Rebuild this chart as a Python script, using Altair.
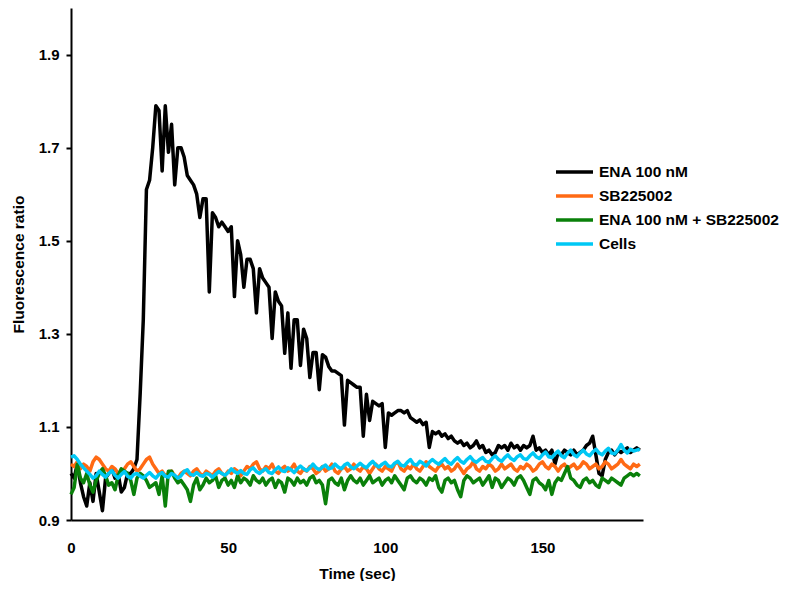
import altair as alt
import pandas as pd

time_sec = list(range(182))

ena_100nm = [
    1.00, 0.99, 1.02, 0.98, 0.95, 0.93, 0.98, 0.94, 1.00, 0.96,
    0.92, 0.99, 1.00, 1.01, 0.99, 1.00, 0.96, 0.97, 1.00, 1.00,
    1.01, 1.03, 1.17, 1.33, 1.61, 1.63, 1.70, 1.79, 1.78, 1.65,
    1.79, 1.69, 1.75, 1.62, 1.70, 1.70, 1.68, 1.64, 1.63, 1.62,
    1.60, 1.55, 1.59, 1.59, 1.39, 1.56, 1.55, 1.53, 1.54, 1.53,
    1.52, 1.53, 1.38, 1.50, 1.47, 1.40, 1.46, 1.46, 1.44, 1.345,
    1.44, 1.42, 1.41, 1.40, 1.29, 1.39, 1.37, 1.36, 1.258, 1.345,
    1.226, 1.33, 1.33, 1.232, 1.31, 1.29, 1.206, 1.26, 1.26, 1.18,
    1.255, 1.25, 1.23, 1.22, 1.22, 1.215, 1.21, 1.104, 1.20, 1.195,
    1.19, 1.185, 1.185, 1.08, 1.17, 1.114, 1.155, 1.15, 1.145, 1.15,
    1.056, 1.13, 1.125, 1.13, 1.135, 1.135, 1.13, 1.135, 1.12, 1.115,
    1.11, 1.115, 1.105, 1.11, 1.056, 1.09, 1.085, 1.09, 1.08, 1.085,
    1.075, 1.08, 1.07, 1.065, 1.07, 1.06, 1.065, 1.055, 1.06, 1.07,
    1.055, 1.06, 1.045, 1.05, 1.04, 1.045, 1.06, 1.055, 1.06, 1.05,
    1.065, 1.055, 1.06, 1.05, 1.06, 1.055, 1.06, 1.08, 1.05, 1.055,
    1.045, 1.05, 1.04, 1.05, 1.02, 1.045, 1.04, 1.05, 1.045, 1.04,
    1.05, 1.04, 1.045, 1.05, 1.06, 1.065, 1.08, 1.04, 1.00, 0.995,
    1.03, 1.045, 1.05, 1.04, 1.05, 1.045, 1.05, 1.055, 1.045, 1.05,
    1.055, 1.05,
]

sb225002 = [
    1.02, 1.015, 1.025, 1.01, 1.02, 1.015, 1.005, 1.025, 1.035, 1.03,
    1.02, 1.01, 1.005, 1.015, 1.01, 1.0, 1.005, 1.01, 1.02, 1.025,
    1.015, 1.005, 1.01, 1.02, 1.03, 1.035, 1.02, 1.01, 1.0, 1.005,
    0.995, 1.0, 1.005, 0.995, 0.99, 1.0, 1.005, 1.0, 0.995, 1.005,
    1.01, 1.0, 0.995, 1.005, 1.0, 0.995, 1.005, 1.01, 1.0, 0.995,
    1.005, 1.0, 1.01, 1.005, 0.995, 1.005, 1.015, 1.01, 1.02, 1.025,
    1.01, 1.005, 1.015, 1.01, 1.02, 1.005, 1.0, 1.01, 1.015, 1.005,
    1.01, 1.02, 1.005, 1.0, 1.01, 1.005, 1.015, 1.01, 1.0, 1.005,
    1.015, 1.005, 1.01, 1.02, 1.005, 1.0, 1.01, 1.015, 1.005, 1.01,
    1.02, 1.01, 1.005, 1.015, 1.01, 1.0, 1.01, 1.02, 1.01, 1.005,
    1.015, 1.01, 1.005, 1.02, 1.025, 1.01, 1.005, 1.015, 1.01, 1.02,
    1.01, 1.005, 1.015, 1.025, 1.015, 1.01, 1.005, 1.015, 1.02, 1.01,
    1.015, 1.005, 1.01, 1.02, 1.01, 1.0, 1.01, 1.015, 1.025, 1.01,
    1.005, 1.015, 1.01, 1.02, 1.015, 1.005, 1.01, 1.02, 1.01, 1.015,
    1.02, 1.01, 1.005, 1.015, 1.01, 1.02, 1.015, 1.005, 1.01, 1.02,
    1.025, 1.015, 1.01, 1.02, 1.015, 1.005, 1.015, 1.02, 1.01, 1.015,
    1.02, 1.01, 1.015, 1.025, 1.02, 1.01, 1.015, 1.02, 1.01, 1.015,
    1.025, 1.02, 1.01, 1.015, 1.02, 1.03, 1.02, 1.015, 1.01, 1.02,
    1.015, 1.02,
]

ena_plus_sb = [
    0.955, 0.97, 1.02, 0.99, 0.98, 1.0, 0.975, 0.96, 0.985, 1.0,
    1.01, 0.995, 0.975, 0.98, 0.965, 0.995, 1.01, 1.005, 1.0, 0.985,
    0.955, 0.99, 1.0, 0.995, 0.985, 0.97, 0.975, 0.98, 0.955, 0.995,
    0.93, 1.005, 1.005, 0.99, 0.98, 0.985, 0.975, 0.965, 0.94, 0.975,
    0.99, 0.965, 0.975, 0.99, 0.98, 0.985, 0.995, 0.97, 0.985, 0.99,
    0.975, 0.985, 0.97, 0.995, 0.98, 0.99, 0.985, 0.975, 0.995, 0.985,
    0.98, 0.99, 0.975, 0.985, 0.99, 0.97, 0.985, 0.98, 0.96, 0.99,
    0.985, 0.975, 0.99, 0.98, 0.985, 0.975, 0.99, 0.995, 0.98, 0.985,
    0.975, 0.935, 0.985, 0.99, 0.98, 0.975, 0.99, 0.965, 0.985, 0.995,
    0.985, 0.98, 0.99, 0.975, 0.985, 0.995, 0.98, 0.985, 0.99, 0.975,
    0.985, 0.99, 0.98, 0.995, 0.985, 0.975, 0.965, 0.99, 0.995, 0.985,
    0.98, 0.99, 0.985, 0.975, 0.99, 0.985, 0.995, 0.97, 0.96, 0.985,
    0.99, 0.98, 0.985, 0.965, 0.95, 0.985, 0.995, 0.99, 0.98, 0.985,
    0.99, 0.975, 0.985, 0.995, 0.97, 0.99, 0.985, 0.97, 0.98, 0.99,
    0.985, 0.975, 0.99, 0.995, 0.985, 0.97, 0.955, 0.985, 0.99, 0.98,
    0.975, 0.965, 0.985, 0.955, 0.98, 0.99, 0.985, 1.0, 1.015, 0.99,
    0.985, 0.975, 0.97, 0.985, 0.99, 0.98, 0.985, 0.975, 0.97, 0.99,
    0.985, 0.98, 0.99, 0.985, 0.98, 0.975, 0.99, 0.995, 1.0, 0.995,
    1.0, 0.995,
]

cells = [
    1.035, 1.038, 1.03, 1.02, 1.012, 1.005, 0.998, 0.99, 0.995, 1.005,
    0.998, 0.992, 1.0, 1.006, 0.996, 0.99, 0.998, 1.004, 0.994, 0.99,
    0.998, 1.0, 0.994, 0.99, 0.996, 1.002, 0.995, 0.99, 0.998, 1.002,
    0.994, 0.992, 1.0, 0.996, 0.99, 0.995, 1.004, 1.008, 0.998, 0.996,
    1.002, 0.996, 0.994, 1.0, 0.998, 0.992, 0.998, 1.004, 1.0, 0.996,
    1.002, 1.01, 1.004, 1.0, 1.006, 1.0, 0.998, 1.008, 1.012, 1.004,
    1.0, 1.006, 1.01, 1.002, 1.0, 1.008, 1.014, 1.006, 1.004, 1.012,
    1.008, 1.002, 1.01, 1.016, 1.01, 1.006, 1.012, 1.02, 1.012, 1.008,
    1.014, 1.018, 1.01, 1.012, 1.02, 1.014, 1.01, 1.018, 1.022, 1.014,
    1.01, 1.016, 1.022, 1.016, 1.012, 1.02, 1.026, 1.018, 1.014, 1.02,
    1.024, 1.016, 1.014, 1.022, 1.026, 1.018, 1.016, 1.024, 1.03, 1.02,
    1.018, 1.026, 1.022, 1.016, 1.024, 1.03, 1.024, 1.02, 1.026, 1.032,
    1.024, 1.02, 1.028, 1.034, 1.026, 1.022, 1.03, 1.036, 1.028, 1.024,
    1.03, 1.034, 1.026, 1.024, 1.032, 1.038, 1.03, 1.026, 1.034, 1.04,
    1.032, 1.028, 1.036, 1.04, 1.032, 1.03, 1.038, 1.044, 1.036, 1.032,
    1.04, 1.046, 1.036, 1.034, 1.042, 1.048, 1.038, 1.034, 1.044, 1.05,
    1.04, 1.036, 1.044, 1.05, 1.042, 1.038, 1.046, 1.052, 1.044, 1.04,
    1.048, 1.054, 1.044, 1.042, 1.05, 1.062, 1.05, 1.044, 1.052, 1.048,
    1.05, 1.052,
]

series_names = ["ENA 100 nM", "SB225002", "ENA 100 nM + SB225002", "Cells"]
series_colors = ["#000000", "#FF6A14", "#0A800A", "#00C8F5"]
x_ticks = [0, 50, 100, 150]
y_ticks = [0.9, 1.1, 1.3, 1.5, 1.7, 1.9]

frames = []
for name, vals in zip(series_names, [ena_100nm, sb225002, ena_plus_sb, cells]):
    frames.append(pd.DataFrame({"t": time_sec, "ratio": vals, "series": name}))
df = pd.concat(frames, ignore_index=True)

FONT = "Liberation Sans"

color = alt.Color(
    "series:N",
    scale=alt.Scale(domain=series_names, range=series_colors),
    legend=alt.Legend(
        title=None,
        orient="none",
        legendX=483,
        legendY=156,
        symbolType="stroke",
        symbolSize=1369,
        symbolStrokeWidth=3.5,
        clipHeight=16,
        labelFont=FONT,
        labelFontSize=15.5,
        labelFontWeight="bold",
        labelColor="black",
        labelOffset=4,
        labelLimit=0,
        rowPadding=7,
        padding=0,
    ),
)

x = alt.X(
    "t:Q",
    scale=alt.Scale(domain=[0, 182], nice=False),
    axis=alt.Axis(
        values=x_ticks,
        title="Time (sec)",
        ticks=False,
        tickSize=0,
        labelFlush=False,
        labelPadding=20,
        titlePadding=11,
    ),
)
y = alt.Y(
    "ratio:Q",
    scale=alt.Scale(domain=[0.9, 2.0], nice=False, zero=False),
    axis=alt.Axis(
        values=y_ticks,
        format=".1f",
        title="Fluorescence ratio",
        tickSize=5,
        labelPadding=7,
        titlePadding=12,
    ),
)

base = alt.Chart(df).mark_line(strokeWidth=3.5, strokeJoin="round").encode(
    x=x, y=y, color=color
)
layers = [base.transform_filter(alt.datum.series == n) for n in series_names]

chart = (
    alt.layer(*layers)
    .properties(
        width=572,
        height=512,
        autosize=alt.AutoSizeParams(type="none"),
        padding={"left": 63, "top": 0, "right": 137, "bottom": 61},
    )
    .configure_view(stroke=None)
    .configure_axis(
        grid=False,
        domainColor="black",
        domainWidth=2,
        tickColor="black",
        tickWidth=2,
        labelFont=FONT,
        labelFontSize=15,
        labelFontWeight="bold",
        labelColor="black",
        titleFont=FONT,
        titleFontSize=15.5,
        titleFontWeight="bold",
        titleColor="black",
    )
)

chart.save("out.html", embed_options={"renderer": "svg", "actions": False})
